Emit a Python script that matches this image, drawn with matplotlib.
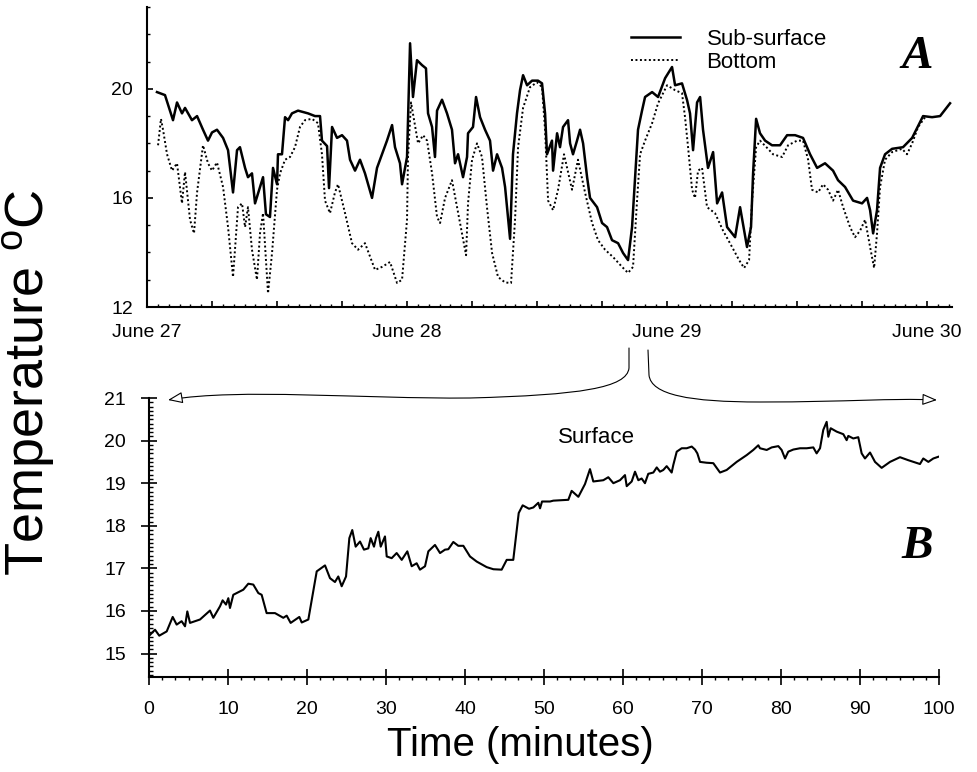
import matplotlib
matplotlib.use("Agg")
import matplotlib.pyplot as plt
from matplotlib.ticker import MultipleLocator, FuncFormatter, AutoMinorLocator
from matplotlib.path import Path
from matplotlib.patches import FancyArrowPatch
from matplotlib.transforms import Affine2D

plt.rcParams['font.family'] = ['Liberation Sans', 'DejaVu Sans']
plt.rcParams['mathtext.default'] = 'regular'

# panel A: hours since June 27 00:00
sub_hours = [0.92, 1.66, 2.40, 2.77, 3.23, 3.51, 4.15, 4.62, 5.17, 5.63,
             6.00, 6.46, 7.02, 7.48, 7.94, 8.31, 8.58, 9.05, 9.32, 9.69,
             9.97, 10.43, 10.71, 10.98, 11.35, 11.63, 12.00, 12.09, 12.46, 12.74,
             13.02, 13.38, 13.94, 14.86, 15.51, 15.97, 16.15, 16.62, 16.80, 17.08,
             17.54, 18.00, 18.46, 18.74, 19.20, 19.66, 20.12, 20.77, 21.23, 21.69,
             22.15, 22.62, 22.89, 23.35, 23.54, 24.00, 24.28, 24.55, 24.92, 25.38,
             25.75, 25.94, 26.31, 26.58, 26.77, 27.23, 27.69, 28.15, 28.43, 28.71,
             29.17, 29.54, 29.63, 30.09, 30.37, 30.74, 31.20, 31.66, 31.94, 32.31,
             32.77, 33.05, 33.51, 33.78, 34.15, 34.43, 34.71, 35.08, 35.54, 36.09,
             36.46, 36.74, 36.92, 37.38, 37.48, 37.85, 38.12, 38.40, 38.86, 39.05,
             39.32, 39.69, 39.97, 40.25, 40.62, 40.89, 41.54, 42.00, 42.46, 42.92,
             43.48, 43.94, 44.40, 44.77, 45.05, 45.32, 45.69, 45.97, 46.62, 47.17,
             47.82, 48.46, 48.74, 49.38, 49.85, 50.12, 50.40, 50.77, 51.05, 51.32,
             51.78, 52.25, 52.62, 53.08, 53.54, 54.28, 54.74, 55.38, 55.75, 55.94,
             56.22, 56.58, 57.05, 57.69, 58.43, 59.08, 59.82, 60.55, 61.20, 61.85,
             62.58, 63.32, 63.78, 64.43, 65.17, 66.00, 66.46, 66.74, 67.02, 67.38,
             67.66, 68.12, 68.77, 69.78, 70.62, 71.63, 72.46, 73.20, 74.12]
sub_temp = [19.88, 19.77, 18.85, 19.5, 19.1, 19.3, 18.85, 19.0, 18.5, 18.1,
            18.4, 18.5, 18.2, 17.75, 16.2, 17.75, 17.86, 17.1, 16.76, 16.9,
            15.8, 16.4, 16.76, 15.4, 15.3, 17.1, 16.5, 17.6, 17.6, 18.96,
            18.85, 19.1, 19.2, 19.1, 19.0, 19.0, 18.1, 17.9, 16.36, 18.6,
            18.2, 18.3, 18.1, 17.4, 17.0, 17.4, 16.9, 16.0, 17.1, 17.6,
            18.1, 18.67, 17.86, 17.27, 16.5, 17.5, 21.67, 19.7, 21.05, 20.87,
            20.75, 19.1, 18.6, 17.5, 19.2, 19.6, 19.1, 18.5, 17.27, 17.6,
            16.76, 17.5, 18.37, 18.6, 19.7, 18.96, 18.5, 18.1, 17.0, 17.6,
            17.1, 16.4, 14.5, 17.6, 19.1, 19.95, 20.5, 20.13, 20.3, 20.3,
            20.2, 19.1, 17.6, 18.1, 17.0, 18.37, 17.86, 18.6, 18.85, 18.0,
            17.6, 18.1, 18.5, 18.0, 16.76, 16.0, 15.66, 15.08, 14.93, 14.45,
            14.34, 13.98, 13.72, 14.93, 16.76, 18.5, 19.2, 19.7, 19.88, 19.7,
            20.39, 20.8, 20.13, 20.2, 19.58, 19.1, 17.75, 19.5, 19.7, 18.5,
            17.1, 17.68, 15.8, 16.2, 14.93, 14.56, 15.66, 14.2, 14.93, 16.9,
            18.9, 18.37, 18.1, 17.93, 17.93, 18.3, 18.3, 18.2, 17.6, 17.1,
            17.27, 17.0, 16.65, 16.4, 15.9, 15.8, 16.0, 15.55, 14.7, 15.55,
            17.1, 17.6, 17.8, 17.86, 18.2, 19.0, 18.96, 19.0, 19.47]

bot_hours = [1.02, 1.29, 1.48, 1.85, 2.31, 2.77, 3.23, 3.51, 3.97, 4.34,
             4.62, 5.17, 5.63, 6.00, 6.46, 7.02, 7.48, 7.94, 8.40, 8.77,
             9.05, 9.32, 9.69, 10.15, 10.43, 10.71, 11.17, 11.54, 12.00, 12.28,
             12.74, 13.20, 13.66, 14.12, 14.58, 15.23, 15.78, 16.15, 16.43, 16.89,
             17.35, 17.63, 18.28, 18.92, 19.48, 20.12, 21.05, 21.69, 22.43, 23.08,
             23.54, 24.00, 24.09, 24.37, 25.02, 25.48, 25.85, 26.31, 26.77, 27.05,
             27.51, 28.15, 28.62, 29.08, 29.45, 29.63, 30.00, 30.46, 30.92, 31.38,
             31.85, 32.40, 33.05, 33.60, 33.97, 34.25, 34.71, 35.35, 36.00, 36.46,
             36.74, 37.02, 37.48, 37.94, 38.49, 39.23, 39.78, 40.43, 41.08, 41.63,
             42.28, 43.02, 43.85, 44.40, 44.86, 45.23, 45.51, 45.97, 46.62, 47.17,
             48.00, 48.74, 49.38, 49.66, 49.94, 50.31, 50.58, 50.86, 51.23, 51.69,
             52.43, 53.17, 54.00, 54.65, 55.11, 55.57, 55.85, 56.22, 56.58, 57.32,
             57.78, 58.62, 59.17, 60.00, 60.55, 61.02, 61.38, 61.94, 62.40, 62.86,
             63.32, 63.78, 64.25, 64.89, 65.35, 65.82, 66.28, 66.74, 67.11, 67.38,
             67.66, 68.12, 68.77, 69.69, 70.15, 70.62, 71.17, 71.82]
bot_temp = [17.93, 18.9, 18.5, 17.6, 17.0, 17.27, 15.8, 16.95, 15.2, 14.7,
            16.2, 17.93, 17.27, 17.0, 17.3, 16.4, 14.93, 13.1, 15.66, 15.8,
            14.93, 15.66, 14.1, 13.0, 14.7, 15.44, 12.5, 13.98, 16.3, 16.9,
            17.4, 17.5, 17.86, 18.6, 18.85, 18.9, 18.74, 17.6, 15.9, 15.44,
            16.2, 16.5, 15.44, 14.34, 14.1, 14.34, 13.36, 13.47, 13.65, 12.88,
            13.0, 15.2, 17.5, 19.5, 18.0, 18.3, 18.1, 16.9, 15.3, 15.08,
            16.0, 16.65, 15.66, 14.7, 13.9, 15.8, 17.4, 18.0, 17.5, 15.66,
            13.98, 13.1, 12.9, 12.88, 15.2, 17.86, 19.3, 20.06, 20.24, 20.06,
            18.5, 15.9, 15.55, 16.3, 17.6, 16.3, 17.4, 16.2, 15.08, 14.45,
            14.1, 13.83, 13.47, 13.25, 13.47, 15.9, 17.6, 18.1, 18.74, 19.47,
            20.13, 19.95, 19.84, 18.96, 17.86, 16.3, 16.0, 17.0, 17.1, 15.66,
            15.44, 14.8, 14.2, 13.72, 13.43, 13.72, 15.9, 17.86, 18.1, 17.8,
            17.6, 17.5, 17.93, 18.1, 18.1, 17.4, 16.3, 16.2, 16.5, 16.3,
            15.9, 16.3, 15.66, 14.93, 14.56, 14.8, 15.2, 14.2, 13.43, 14.7,
            16.4, 17.4, 17.68, 17.8, 17.6, 18.0, 18.6, 18.96]

day_labels = {0: 'June 27', 24: 'June 28', 48: 'June 29', 72: 'June 30'}

# panel B: minutes
surf_min = [0.13, 0.76, 1.3, 2.24, 3.0, 3.5, 4.13, 4.56, 4.85, 5.19,
            6.46, 7.72, 8.14, 8.99, 9.32, 9.75, 10.04, 10.25, 10.67, 11.94,
            12.57, 13.2, 13.84, 14.26, 14.89, 15.95, 17.0, 17.43, 17.93, 19.03,
            19.33, 20.17, 21.23, 22.28, 22.91, 23.54, 23.96, 24.39, 24.94, 25.36,
            25.73, 26.16, 26.71, 27.21, 27.76, 28.06, 28.48, 28.73, 29.03, 29.33,
            29.87, 30.09, 30.72, 31.35, 31.99, 32.70, 33.25, 33.88, 34.30, 34.94,
            35.36, 36.2, 36.84, 37.47, 37.89, 38.52, 39.15, 39.79, 40.63, 41.48,
            42.74, 43.59, 44.64, 45.28, 46.11, 46.8, 47.3, 48.1, 48.65, 49.28,
            49.5, 49.75, 50.76, 51.18, 53.08, 53.5, 54.35, 55.19, 55.82, 56.24,
            57.51, 58.14, 58.78, 59.62, 60.25, 60.47, 61.1, 61.52, 61.94, 62.36,
            62.78, 63.2, 63.84, 64.27, 64.68, 65.1, 65.53, 66.16, 66.37, 66.8,
            67.43, 68.06, 68.7, 69.11, 69.41, 69.75, 70.59, 71.43, 72.28, 73.12,
            74.39, 75.66, 76.49, 77.13, 77.34, 78.19, 78.82, 79.66, 80.08, 80.51,
            80.92, 81.56, 82.41, 83.25, 84.09, 84.51, 84.94, 85.35, 85.78, 85.99,
            86.29, 87.05, 87.89, 88.31, 88.52, 89.15, 89.78, 90.21, 90.63, 91.27,
            91.9, 92.74, 93.8, 95.06, 96.11, 97.59, 98.01, 98.65, 99.28, 99.91]
surf_temp = [15.44, 15.56, 15.42, 15.52, 15.86, 15.68, 15.76, 15.64, 15.99, 15.72,
             15.80, 16.01, 15.84, 16.11, 16.25, 16.15, 16.30, 16.07, 16.38, 16.50,
             16.64, 16.62, 16.42, 16.38, 15.95, 15.95, 15.84, 15.89, 15.72, 15.86,
             15.73, 15.80, 16.93, 17.07, 16.77, 16.68, 16.81, 16.58, 16.81, 17.71,
             17.90, 17.51, 17.63, 17.44, 17.47, 17.71, 17.51, 17.71, 17.86, 17.51,
             17.75, 17.28, 17.24, 17.36, 17.20, 17.40, 17.05, 17.12, 16.97, 17.05,
             17.40, 17.55, 17.36, 17.44, 17.45, 17.62, 17.53, 17.53, 17.28, 17.16,
             17.03, 16.98, 16.97, 17.20, 17.20, 18.30, 18.48, 18.40, 18.43, 18.54,
             18.41, 18.57, 18.57, 18.59, 18.61, 18.82, 18.68, 18.98, 19.33, 19.04,
             19.07, 19.14, 19.00, 19.07, 19.19, 18.93, 19.04, 19.27, 19.07, 19.11,
             19.00, 19.22, 19.25, 19.37, 19.27, 19.31, 19.40, 19.25, 19.43, 19.74,
             19.82, 19.82, 19.86, 19.79, 19.70, 19.50, 19.48, 19.47, 19.25, 19.31,
             19.50, 19.66, 19.78, 19.89, 19.82, 19.78, 19.84, 19.87, 19.78, 19.58,
             19.74, 19.79, 19.82, 19.82, 19.84, 19.70, 19.82, 20.25, 20.44, 20.09,
             20.29, 20.21, 20.15, 20.01, 20.11, 20.05, 20.08, 19.70, 19.58, 19.72,
             19.50, 19.36, 19.50, 19.61, 19.54, 19.45, 19.58, 19.50, 19.58, 19.62]

W, H = 977, 772
fig = plt.figure(figsize=(W / 100, H / 100), dpi=100)

# --- panel A ---
ax_a = fig.add_axes([147 / W, 1 - 307 / H, 805 / W, 300 / H])
ax_a.plot(sub_hours, sub_temp, color='black', lw=1.8, label='Sub-surface')
ax_a.plot(bot_hours, bot_temp, color='black', lw=1.4, ls=(0, (1, 1.3)), label='Bottom')
ax_a.set_xlim(0, 74.3)
ax_a.set_ylim(12, 23)
for s in ['top', 'right']:
    ax_a.spines[s].set_visible(False)
for s in ['left', 'bottom']:
    ax_a.spines[s].set_linewidth(1.5)
ax_a.xaxis.set_major_locator(MultipleLocator(6))
ax_a.xaxis.set_minor_locator(MultipleLocator(1))
ax_a.xaxis.set_major_formatter(FuncFormatter(lambda v, p: day_labels.get(int(round(v)), '')))
ax_a.yaxis.set_major_locator(MultipleLocator(4))
ax_a.yaxis.set_minor_locator(MultipleLocator(1))
ax_a.tick_params(which='major', direction='in', length=4.5, width=1.2, labelsize=14)
ax_a.tick_params(which='minor', direction='in', length=2.5, width=1.0)
ax_a.tick_params(axis='x', which='major', pad=12)
ax_a.tick_params(axis='y', which='major', pad=10)
ax_a.legend(frameon=False, fontsize=16, handlelength=2.2, handletextpad=1.2,
            labelspacing=0.1, borderpad=0, borderaxespad=0, loc='upper left',
            bbox_to_anchor=(631 / W, 1 - 29 / H), bbox_transform=fig.transFigure)

# --- panel B ---
ax_b = fig.add_axes([149 / W, 1 - 677 / H, 790 / W, 279 / H])
ax_b.plot(surf_min, surf_temp, color='black', lw=1.5)
ax_b.set_xlim(0, 100)
ax_b.set_ylim(14.45, 21)
for s in ['top', 'right']:
    ax_b.spines[s].set_visible(False)
for s in ['left', 'bottom']:
    ax_b.spines[s].set_linewidth(1.5)
ax_b.xaxis.set_major_locator(MultipleLocator(10))
ax_b.xaxis.set_minor_locator(AutoMinorLocator(6))
ax_b.yaxis.set_major_locator(MultipleLocator(1))
ax_b.yaxis.set_minor_locator(AutoMinorLocator(10))
ax_b.tick_params(which='major', direction='inout', length=11, width=1.2, labelsize=14)
ax_b.tick_params(axis='x', which='major', pad=12)
ax_b.tick_params(axis='y', which='major', pad=11)
ax_b.tick_params(axis='x', which='minor', direction='out', length=2.5, width=1.0)
ax_b.tick_params(axis='y', which='minor', direction='in', length=3, width=1.0)
ax_b.text(0.567, 0.86, 'Surface', transform=ax_b.transAxes, fontsize=16,
          ha='center', va='center')

# --- labels ---
fig.text(30 / W, 1 - 383 / H, 'Temperature $^{o}$C', rotation=90, fontsize=39,
         ha='center', va='center')
fig.text(520 / W, 1 - 745 / H, 'Time (minutes)', fontsize=29, ha='center', va='center')
for letter, yy in [('A', 57), ('B', 547)]:
    fig.text(917 / W, 1 - yy / H, letter, fontsize=34, fontfamily='Liberation Serif',
             fontweight='bold', fontstyle='italic', ha='center', va='center')

# bracket arrows from June 29 to the 100-minute window
px = Affine2D().scale(1 / W, -1 / H).translate(0, 1) + fig.transFigure
left_path = Path([(629, 348), (629, 368), (627, 388), (580, 395), (470, 398),
                  (360, 399), (240, 388), (168, 400)],
                 [Path.MOVETO, Path.LINETO] + [Path.CURVE4] * 6)
right_path = Path([(648, 350), (649, 375), (651, 395), (690, 402), (760, 402),
                   (850, 402), (890, 398), (937, 400)],
                  [Path.MOVETO, Path.LINETO] + [Path.CURVE4] * 6)
for pth in [left_path, right_path]:
    arr = FancyArrowPatch(path=pth, transform=px,
                          arrowstyle='-|>,head_length=0.9,head_width=0.35',
                          mutation_scale=10, lw=0.8, ec='black', fc='white')
    fig.add_artist(arr)

fig.savefig('out.png', dpi=100)
